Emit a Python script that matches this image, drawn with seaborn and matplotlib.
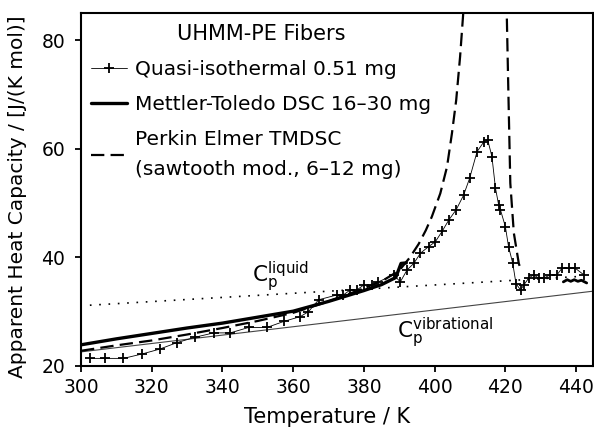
import matplotlib
matplotlib.use("Agg")
import matplotlib.pyplot as plt
import seaborn as sns
import pandas as pd

# Quasi-isothermal TMDSC, 0.51 mg (crosses)
quasi_T = [302.4, 306.8, 312.0, 317.2, 322.2, 327.1, 332.3, 337.5, 342.2, 347.4,
           352.6, 357.3, 362.0, 364.3, 367.2, 372.4, 374.2, 376.1, 378.0, 379.9,
           382.3, 384.1, 388.4, 390.3, 392.2, 394.1, 396.0, 398.3, 400.2, 402.1,
           404.0, 406.1, 408.2, 409.9, 412.0, 413.9, 415.0, 416.2, 417.2, 418.1,
           418.6, 420.0, 420.9, 422.1, 423.0, 424.3, 425.2, 426.6, 428.0, 429.4,
           430.9, 432.7, 434.6, 436.0, 437.9, 439.8, 442.2]
quasi_cp = [21.4, 21.4, 21.4, 22.2, 23.1, 24.3, 25.3, 26.1, 26.1, 27.1,
            27.1, 28.2, 29.1, 30.0, 32.2, 33.1, 33.1, 34.0, 34.0, 34.9,
            34.9, 35.5, 36.8, 35.5, 37.7, 38.9, 40.8, 42.0, 42.9, 44.8,
            46.9, 48.8, 51.5, 54.6, 59.5, 61.3, 61.7, 58.6, 52.8, 49.7,
            48.8, 45.7, 42.0, 38.9, 35.2, 34.0, 34.9, 36.2, 36.8, 36.2,
            36.2, 36.8, 36.8, 38.0, 38.0, 38.0, 36.8]

# Mettler-Toledo DSC 16-30 mg (thick line, two visible parts)
mettler_T_low = [300, 310, 320, 330, 340, 350, 360, 370, 380, 385, 389, 390.5, 392]
mettler_cp_low = [23.9, 25.0, 26.0, 27.0, 27.9, 29.0, 30.1, 31.9, 33.9, 35.0, 36.3, 38.9, 39.0]
mettler_T_high = [436.4, 437.5, 438.5, 439.5, 440.5, 441.5, 443.0]
mettler_cp_high = [35.5, 35.9, 35.6, 35.9, 35.6, 35.8, 35.3]

# Perkin Elmer TMDSC, sawtooth modulation 6-12 mg (dashed)
perkin_T = [300, 310, 320, 330, 340, 350, 360, 370, 380, 386, 390, 393, 395.5,
            397.5, 399.2, 401.6, 403.5, 404.9, 406.1, 407.2, 408.2, 410, 414,
            418, 420.3, 420.9, 421.4, 422.4, 423.8, 424.5]
perkin_cp = [22.8, 23.8, 24.7, 25.8, 27.0, 28.3, 29.8, 31.9, 34.3, 36.0, 37.6, 40.0, 42.5,
             45.0, 47.5, 51.8, 56.7, 62.9, 69.0, 77.0, 86.0, 100, 112,
             104, 88.0, 69.0, 53.7, 44.5, 38.9, 37.5]

# reference lines
liquid_T = [302.5, 441]
liquid_cp = [31.2, 36.5]
vib_T = [300, 445]
vib_cp = [22.6, 33.8]

x_ticks = [300, 320, 340, 360, 380, 400, 420, 440]
y_ticks = [20, 40, 60, 80]

sns.set_style("ticks", {"text.color": "black", "axes.labelcolor": "black",
                        "xtick.color": "black", "ytick.color": "black",
                        "axes.edgecolor": "black"})
plt.rcParams["font.family"] = ["DejaVu Sans"]

fig = plt.figure(figsize=(5.94, 4.29), dpi=100)
ax = fig.add_axes([0.1364, 0.1469, 0.862, 0.8221])

sns.lineplot(x=liquid_T, y=liquid_cp, ax=ax, color="black", lw=1.2,
             linestyle=(0, (1, 4.6)))
sns.lineplot(x=vib_T, y=vib_cp, ax=ax, color="#444444", lw=0.8)

sns.lineplot(x=mettler_T_low, y=mettler_cp_low, ax=ax, color="black", lw=2.4,
             sort=False, estimator=None)
line_m = ax.lines[-1]
sns.lineplot(x=mettler_T_high, y=mettler_cp_high, ax=ax, color="black", lw=2.0,
             sort=False, estimator=None)

sns.lineplot(x=perkin_T, y=perkin_cp, ax=ax, color="black", lw=1.6,
             linestyle=(0, (6, 2.8)), sort=False, estimator=None)
line_p = ax.lines[-1]

sns.lineplot(x=quasi_T, y=quasi_cp, ax=ax, color="black", lw=0.6,
             marker="+", markersize=7, markeredgewidth=1.3,
             markeredgecolor="black", sort=False, estimator=None)
line_q = ax.lines[-1]

ax.set_xlim(300, 444.8)
ax.set_ylim(20, 85)
ax.set_xticks(x_ticks)
ax.set_yticks(y_ticks)
ax.tick_params(axis="both", labelsize=13.5, width=1.3, length=4.5, direction="out",
               colors="black")
ax.tick_params(axis="x", pad=4)
ax.tick_params(axis="y", pad=7)
for s in ax.spines.values():
    s.set_visible(True)
    s.set_linewidth(1.5)
    s.set_color("black")

ax.set_xlabel("Temperature / K", fontsize=15, color="black")
ax.set_ylabel("Apparent Heat Capacity / [J/(K mol)]", fontsize=14.5, color="black")
ax.xaxis.set_label_coords(0.48, -0.115)
ax.yaxis.set_label_coords(-0.105, 0.48)

ax.text(348.4, 35.5, r"$\mathregular{C_p^{liquid}}$", fontsize=15.5, va="baseline",
        color="black")
ax.text(389.4, 25.2, r"$\mathregular{C_p^{vibrational}}$", fontsize=15.5, va="baseline",
        color="black")

leg = ax.legend([line_q, line_m, line_p],
                ["Quasi-isothermal 0.51 mg",
                 "Mettler-Toledo DSC 16–30 mg",
                 "Perkin Elmer TMDSC\n(sawtooth mod., 6–12 mg)"],
                title="UHMM-PE Fibers", loc="upper left",
                bbox_to_anchor=(0.02, 0.97), frameon=False, fontsize=14.5,
                title_fontsize=15, handlelength=1.75, handletextpad=0.4,
                labelspacing=0.8, borderpad=0, borderaxespad=0, numpoints=1,
                labelcolor="black")
leg.get_title().set_color("black")
for t in leg.get_texts():
    t.set_linespacing(1.75)

fig.savefig("out.png", dpi=100)
